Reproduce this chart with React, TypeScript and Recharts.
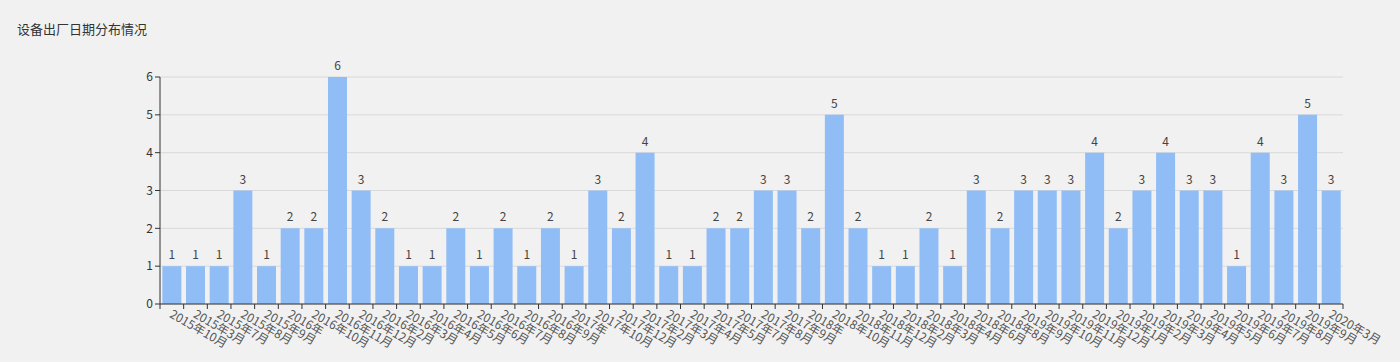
import { BarChart, Bar, XAxis, YAxis, CartesianGrid, LabelList } from "recharts";

const months = [
  "2015年10月", "2015年3月", "2015年7月", "2015年8月", "2015年9月",
  "2016年", "2016年10月", "2016年11月", "2016年12月", "2016年2月",
  "2016年3月", "2016年4月", "2016年5月", "2016年6月", "2016年7月",
  "2016年8月", "2016年9月", "2017年", "2017年10月", "2017年12月",
  "2017年2月", "2017年3月", "2017年4月", "2017年5月", "2017年7月",
  "2017年8月", "2017年9月", "2018年", "2018年10月", "2018年11月",
  "2018年12月", "2018年2月", "2018年3月", "2018年4月", "2018年6月",
  "2018年8月", "2019年9月", "2019年10月", "2019年11月", "2019年12月",
  "2019年1月", "2019年2月", "2019年3月", "2019年4月", "2019年5月",
  "2019年6月", "2019年7月", "2019年8月", "2019年9月", "2020年3月",
];

const counts = [
  1, 1, 1, 3, 1, 2, 2, 6, 3, 2,
  1, 1, 2, 1, 2, 1, 2, 1, 3, 2,
  4, 1, 1, 2, 2, 3, 3, 2, 5, 2,
  1, 1, 2, 1, 3, 2, 3, 3, 3, 4,
  2, 3, 4, 3, 3, 1, 4, 3, 5, 3,
];

const yTicks = [0, 1, 2, 3, 4, 5, 6];

const chartData = months.map((name, i) => ({ id: i, name, value: counts[i] }));

const FONT = '"Noto Sans CJK SC", "Microsoft YaHei", sans-serif';

// ticks sit on band edges, labels start at the band centre
const MonthTick = (props: any) => {
  const { x, y, payload, index } = props;
  const half = payload?.offset || 11.83;
  const isLast = index === months.length - 1;
  return (
    <g>
      <line x1={x - half} y1={y - 8} x2={x - half} y2={y - 3} stroke="#333" />
      {isLast && <line x1={x + half} y1={y - 8} x2={x + half} y2={y - 3} stroke="#333" />}
      <g transform={`translate(${x - 1},${y + 1}) rotate(30)`}>
        <text x={0} y={0} dy="0.35em" textAnchor="start" fill="#555" fontSize={12} fontFamily={FONT}>
          {months[index] ?? payload.value}
        </text>
      </g>
    </g>
  );
};

export default function App() {
  return (
    <div
      style={{
        position: "absolute",
        left: 0,
        top: 0,
        width: 1400,
        height: 362,
        background: "#f1f1f1",
        fontFamily: FONT,
      }}
    >
      <div
        style={{
          position: "absolute",
          left: 17,
          top: 20,
          fontSize: 13,
          lineHeight: "18px",
          color: "#333",
        }}
      >
        设备出厂日期分布情况
      </div>
      <div style={{ position: "absolute", left: 0, top: 0 }}>
        <BarChart
          width={1400}
          height={362}
          data={chartData}
          margin={{ top: 77, right: 57, left: 120, bottom: 0 }}
          barCategoryGap="10%"
        >
          <CartesianGrid vertical={false} stroke="#d9d9d9" />
          <XAxis
            dataKey="id"
            type="category"
            height={58}
            interval={0}
            tickLine={false}
            axisLine={{ stroke: "#333" }}
            tick={<MonthTick />}
          />
          <YAxis
            width={40}
            domain={[0, 6]}
            ticks={yTicks}
            interval={0}
            axisLine={{ stroke: "#333" }}
            tickLine={{ stroke: "#333" }}
            tickSize={5}
            tick={{ fill: "#333", fontSize: 12, fontFamily: FONT }}
          />
          <Bar dataKey="value" fill="#91bdf6" isAnimationActive={false}>
            <LabelList dataKey="value" position="top" offset={7} fill="#444" fontSize={12} fontFamily={FONT} />
          </Bar>
        </BarChart>
      </div>
    </div>
  );
}
